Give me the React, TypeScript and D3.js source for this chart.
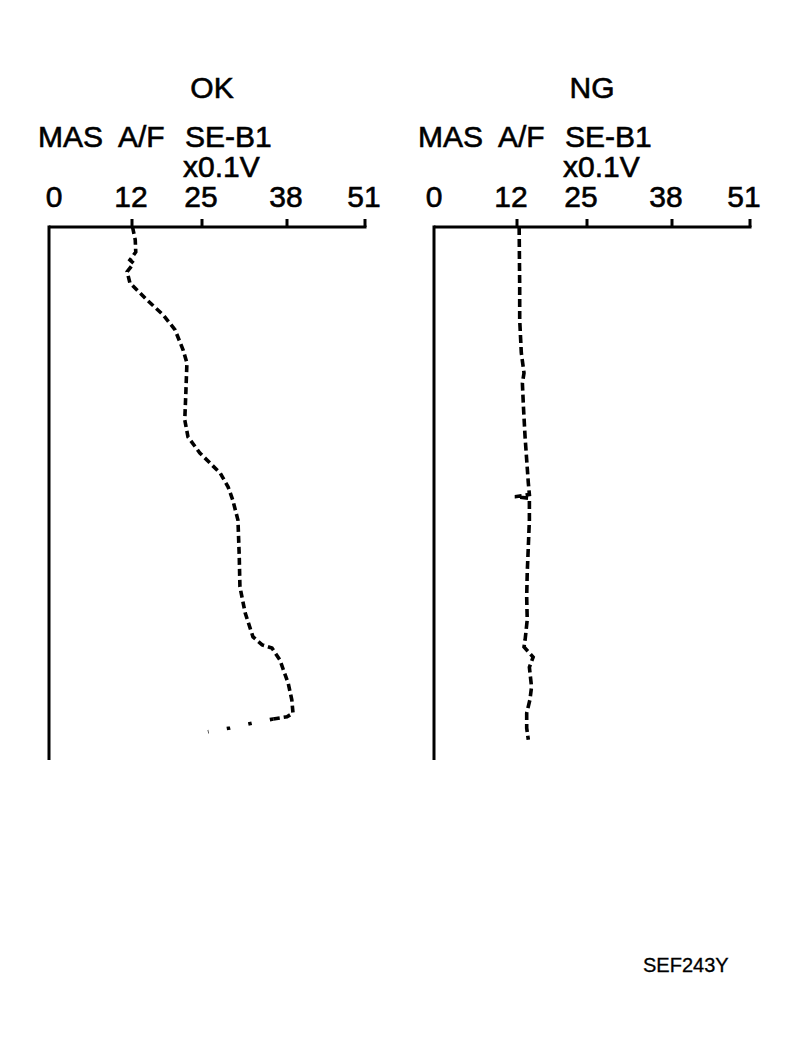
import React, { useEffect, useRef } from 'react';
import * as d3 from 'd3';

// Tick labels on the top axis (spacing in the original is drawn unevenly)
const tickValues = [0, 12, 25, 38, 51];
const tickLabels = ['0', '12', '25', '38', '51'];

const panelTitles = ['OK', 'NG'];
const headerWords = ['MAS', 'A/F', 'SE-B1'];
const unitLabel = 'x0.1V';
const caption = 'SEF243Y';

// time (0..100 top to bottom), sensor value (x0.1V)
const okTime = [0, 2.4, 4.7, 6.2, 6.8, 8.4, 10.5, 13.7, 16.5, 19.3, 23.1, 25.5, 31.1, 36.2, 39.4, 42.4, 46.2, 48.8, 51.2, 55.0, 61.9, 67.5, 72.4, 76.9, 78.4, 79.0, 81.2, 85.6, 88.7, 91.2, 91.9, 92.3];
const okValue = [12.1, 12.6, 12.7, 11.7, 12.3, 11.3, 11.7, 14.8, 17.8, 20.0, 21.5, 22.2, 22.0, 21.8, 22.4, 24.6, 27.8, 29.0, 29.7, 30.5, 30.7, 30.8, 31.6, 32.8, 34.2, 35.7, 36.9, 38.2, 38.8, 39.0, 38.0, 35.9];
// last stretch of the OK trace, only dots left
const okTailTime = [92.3, 93.1, 94.0, 94.7];
const okTailValue = [35.9, 32.6, 29.3, 25.9];

const ngTime = [0, 11.3, 17.4, 23.6, 27.4, 29.3, 33.8, 39.4, 43.7, 48.0, 50.2, 50.6, 50.9, 55.0, 60.0, 64.9, 69.4, 73.7, 77.5, 78.8, 80.7, 82.6, 86.3, 88.7, 91.2, 94.0, 96.2];
const ngValue = [12.4, 12.5, 12.5, 12.8, 13.3, 13.0, 13.2, 13.5, 13.8, 14.1, 14.3, 11.7, 14.3, 14.3, 14.1, 13.9, 13.8, 13.9, 13.5, 13.3, 15.0, 14.3, 14.7, 14.4, 13.8, 13.8, 14.1];

const App: React.FC = () => {
  const svgRef = useRef<SVGSVGElement | null>(null);

  useEffect(() => {
    document.body.style.margin = '0';
    if (!svgRef.current) return;
    const svg = d3.select(svgRef.current);
    svg.selectAll('*').remove();

    const font = '"Liberation Sans", Arial, Helvetica, sans-serif';
    const panels = [
      { x0: 49, textShift: 0, title: panelTitles[0], series: [{ t: okTime, v: okValue, dash: '7 4' }, { t: okTailTime, v: okTailValue, dash: '3.5 18.5' }] },
      { x0: 434, textShift: -5, title: panelTitles[1], series: [{ t: ngTime, v: ngValue, dash: '8 4' }] },
    ];

    const y = d3.scaleLinear().domain([0, 100]).range([227, 760]);

    // heavier text like the scanned original
    const label = (sel: any, size: number) =>
      sel.style('font-family', font)
        .style('font-size', `${size}px`)
        .attr('fill', '#000')
        .attr('stroke', '#000')
        .attr('stroke-width', 0.6);

    panels.forEach((p) => {
      // the printed ticks are not evenly spaced, so use a piecewise scale
      const x = d3.scaleLinear()
        .domain(tickValues)
        .range([0, 83, 153, 238, 316].map((d) => d + p.x0));

      const g = svg.append('g');

      // title
      label(g.append('text')
        .attr('x', p.x0 + 163 + p.textShift)
        .attr('y', 98)
        .attr('text-anchor', 'middle'), 30)
        .text(p.title);

      // header words
      const headerX = [-11, 69, 136];
      headerWords.forEach((w, i) => {
        label(g.append('text')
          .attr('x', p.x0 + headerX[i] + p.textShift)
          .attr('y', 147), 30)
          .text(w);
      });
      label(g.append('text')
        .attr('x', p.x0 + 134 + p.textShift)
        .attr('y', 177), 30)
        .text(unitLabel);

      // tick labels
      label(g.selectAll('.tick-label')
        .data(tickValues)
        .enter().append('text')
        .attr('class', 'tick-label')
        .attr('x', (d: number, i: number) => x(d) + p.textShift + (i === 0 ? 5 : -1))
        .attr('y', 207)
        .attr('text-anchor', 'middle'), 30)
        .text((d: number, i: number) => tickLabels[i]);

      // top axis line and ticks
      g.append('line')
        .attr('x1', x(0)).attr('x2', x(51) + 1.5)
        .attr('y1', y(0)).attr('y2', y(0))
        .attr('stroke', '#000').attr('stroke-width', 3);
      g.selectAll('.tick')
        .data(tickValues.slice(1))
        .enter().append('line')
        .attr('class', 'tick')
        .attr('x1', (d) => x(d)).attr('x2', (d) => x(d))
        .attr('y1', y(0) - 8).attr('y2', y(0))
        .attr('stroke', '#000').attr('stroke-width', 3);

      // left vertical axis
      g.append('line')
        .attr('x1', x(0)).attr('x2', x(0))
        .attr('y1', y(0) - 1.5).attr('y2', y(100))
        .attr('stroke', '#000').attr('stroke-width', 3);

      // traces
      p.series.forEach((s) => {
        const pts = s.t.map((t, i) => [s.v[i], t] as [number, number]);
        const line = d3.line<[number, number]>()
          .x((d) => x(d[0]))
          .y((d) => y(d[1]))
          .curve(d3.curveLinear);
        g.append('path')
          .attr('d', line(pts) || '')
          .attr('fill', 'none')
          .attr('stroke', '#000')
          .attr('stroke-width', 3.6)
          .attr('stroke-dasharray', s.dash);
      });
    });

    label(svg.append('text')
      .attr('x', 643)
      .attr('y', 972), 20)
      .attr('stroke-width', 0.3)
      .text(caption);
  }, []);

  return <svg ref={svgRef} width={796} height={1046} style={{ display: 'block', background: '#fff' }} />;
};

export default App;
